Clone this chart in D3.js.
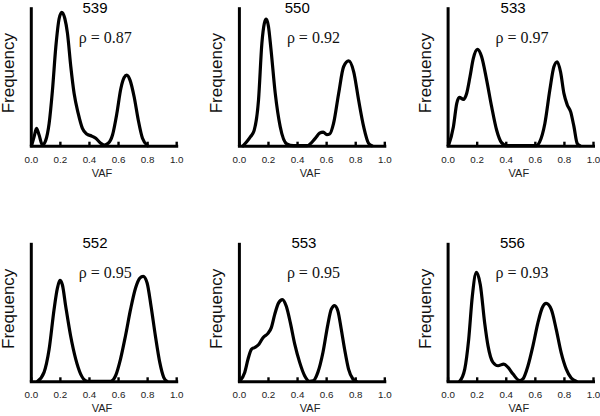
<!DOCTYPE html>
<html>
<head>
<meta charset="utf-8">
<script src="https://cdn.jsdelivr.net/npm/d3@7"></script>
<style>
  html, body { margin: 0; padding: 0; background: #fff; }
  svg { display: block; }
  .rho { font-family: "Liberation Serif", "Times New Roman", "DejaVu Serif", serif; }
  .sans { font-family: "Liberation Sans", Arial, Helvetica, sans-serif; }
</style>
</head>
<body>
<svg id="chart" width="600" height="416"></svg>
<script>
// ---------------- data ----------------
const sampleIds = ["539", "550", "533", "552", "553", "556"];
const rhoValues = [0.87, 0.92, 0.97, 0.95, 0.95, 0.93];
const vafTicks = [0.0, 0.2, 0.4, 0.6, 0.8, 1.0];

// [VAF, frequency (0-100 of axis height)]
const density539 = [[0.005,0],[0.023,6.5],[0.039,12.5],[0.057,7.7],[0.08,0.5],[0.103,4],[0.126,16],[0.149,40],[0.172,71],[0.195,91.5],[0.213,96],[0.234,91.5],[0.252,81],[0.275,57],[0.298,37.5],[0.326,23.3],[0.355,12.5],[0.385,8.4],[0.417,7],[0.447,5.3],[0.477,2.2],[0.505,0.5],[0.532,1.7],[0.562,7.7],[0.592,23.3],[0.619,41],[0.642,49],[0.66,50.8],[0.683,47],[0.711,35],[0.739,18.5],[0.768,5.3],[0.803,0]];
const density550 = [[0.03,0],[0.055,3],[0.08,6.5],[0.105,11],[0.135,33],[0.158,73.6],[0.175,88],[0.188,91],[0.203,86],[0.22,70],[0.25,37.6],[0.284,13.7],[0.33,1.2],[0.376,0],[0.468,0],[0.525,5.3],[0.555,9],[0.58,9.8],[0.605,8],[0.625,8.5],[0.651,16],[0.686,37.6],[0.72,56.8],[0.755,61],[0.79,53],[0.823,33],[0.858,13.7],[0.892,1.7],[0.915,0]];
const density533 = [[0.006,0],[0.04,13.7],[0.063,30.5],[0.081,34.8],[0.109,33.3],[0.131,37.6],[0.154,49.6],[0.177,62.8],[0.205,69.3],[0.234,64],[0.269,47],[0.303,28],[0.337,11.3],[0.371,2.2],[0.406,0],[0.611,0],[0.634,2.9],[0.669,16],[0.703,40],[0.731,56.8],[0.754,60.4],[0.777,53],[0.8,37.6],[0.823,29.3],[0.846,24.5],[0.869,13.7],[0.891,1.7],[0.91,0]];
const density552 = [[0.046,0],[0.091,6.4],[0.126,23],[0.16,51.7],[0.183,67],[0.2,72.6],[0.217,69.5],[0.24,54],[0.274,32.6],[0.309,16],[0.343,5.2],[0.377,0.5],[0.4,0],[0.549,0],[0.583,4],[0.617,16],[0.651,32.6],[0.686,51.7],[0.72,67],[0.75,74.3],[0.773,75.5],[0.8,70.7],[0.827,54],[0.857,32.6],[0.887,13.6],[0.914,2.9],[0.937,0]];
const density553 = [[0.006,0],[0.04,6.4],[0.063,16],[0.086,23],[0.109,24.3],[0.138,26.7],[0.166,31.4],[0.2,34.5],[0.223,38.6],[0.246,48],[0.273,56.4],[0.299,58.8],[0.326,54],[0.354,42],[0.384,26.7],[0.418,13.6],[0.452,4],[0.486,0],[0.51,0.3],[0.543,6.4],[0.578,20.7],[0.612,41],[0.635,51.7],[0.658,54.5],[0.681,50.5],[0.704,37.4],[0.727,23],[0.754,8.8],[0.784,1.7],[0.807,0]];
const density556 = [[0.083,0],[0.118,8.8],[0.145,30.2],[0.17,61.2],[0.198,78.3],[0.225,69.5],[0.255,42],[0.278,25.5],[0.312,13.6],[0.347,11.2],[0.386,12.4],[0.416,10],[0.45,5.2],[0.496,0.5],[0.518,1.7],[0.553,11.2],[0.587,25.5],[0.621,42],[0.651,52.9],[0.678,56],[0.713,51.7],[0.747,37.4],[0.781,20.7],[0.816,8.8],[0.85,2.4],[0.885,0]];

const densities = [density539, density550, density533, density552, density553, density556];

// ---------------- layout ----------------
const colX = [30.8, 238.9, 447.6];
const rowTop = [6.7, 242.3];
const W = 145.4, H = 139;
const titleDx = [64.2, 58.4, 65.5, 64.2, 65, 64.8];

const svg = d3.select("#chart");

sampleIds.forEach((id, i) => {
  const col = i % 3, row = Math.floor(i / 3);
  const g = svg.append("g").attr("transform", `translate(${colX[col]},${rowTop[row]})`);

  const x = d3.scaleLinear().domain([0, 1]).range([0, W]);
  const y = d3.scaleLinear().domain([0, 100]).range([H, 0]);

  // density curve
  const line = d3.line()
    .x(d => x(d[0]))
    .y(d => y(d[1]))
    .curve(d3.curveMonotoneX);
  g.append("path")
    .datum(densities[i])
    .attr("d", line)
    .attr("fill", "none")
    .attr("stroke", "#000")
    .attr("stroke-width", 3.2)
    .attr("stroke-linejoin", "round")
    .attr("stroke-linecap", "round");

  // x axis
  const xAxis = d3.axisBottom(x)
    .tickValues(vafTicks)
    .tickFormat(d3.format(".1f"))
    .tickSize(-4)
    .tickSizeOuter(0)
    .tickPadding(10);
  const gx = g.append("g").attr("transform", `translate(0,${H})`).call(xAxis);
  gx.attr("font-family", null).attr("font-size", null);
  gx.select(".domain").attr("stroke", "#000").attr("stroke-width", 3).attr("stroke-linecap", "square");
  gx.selectAll(".tick line").attr("stroke", "#000").attr("stroke-width", 2.4);
  gx.selectAll(".tick text")
    .attr("class", "sans")
    .attr("fill", "#222")
    .style("font-size", "9.8px");

  // y axis (line only)
  const yAxis = d3.axisLeft(y).tickValues([]).tickSizeOuter(0);
  const gy = g.append("g").call(yAxis);
  gy.select(".domain").attr("stroke", "#000").attr("stroke-width", 3);

  // labels
  g.append("text")
    .attr("class", "sans")
    .attr("x", x(0.49)).attr("y", H + 31)
    .attr("text-anchor", "middle")
    .style("font-size", "11px")
    .attr("fill", "#222")
    .text("VAF");

  g.append("text")
    .attr("class", "sans")
    .attr("transform", `translate(-17,${H / 2 - 3}) rotate(-90)`)
    .attr("text-anchor", "middle")
    .style("font-size", "17px")
    .attr("fill", "#111")
    .text("Frequency");

  g.append("text")
    .attr("class", "sans")
    .attr("x", titleDx[i]).attr("y", 5.8)
    .attr("text-anchor", "middle")
    .style("font-size", "15px")
    .attr("fill", "#000")
    .text(id);

  g.append("text")
    .attr("class", "rho")
    .attr("x", 74.5).attr("y", 36)
    .attr("text-anchor", "middle")
    .style("font-size", "16px")
    .attr("fill", "#111")
    .text("ρ = " + d3.format(".2f")(rhoValues[i]));
});
</script>
</body>
</html>
